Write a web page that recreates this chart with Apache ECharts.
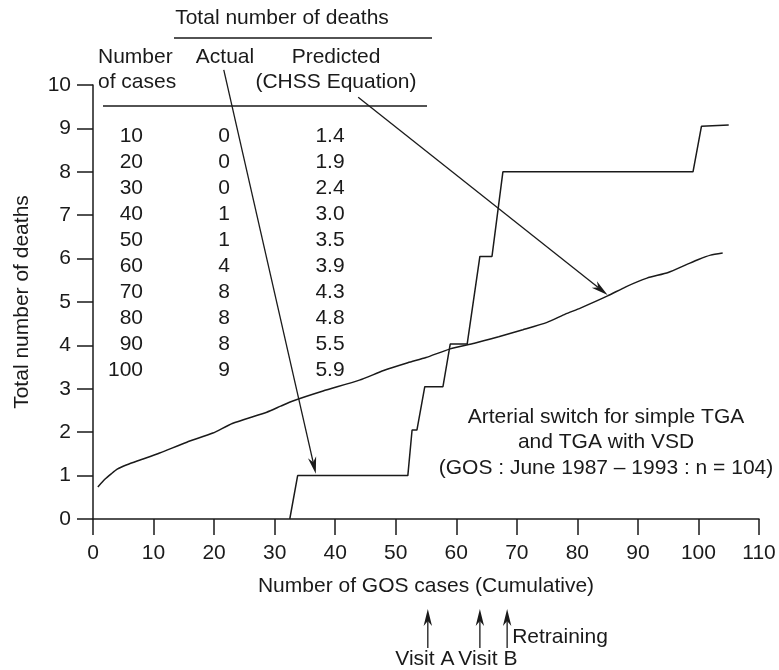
<!DOCTYPE html>
<html>
<head>
<meta charset="utf-8">
<script src="https://cdn.jsdelivr.net/npm/echarts@6/dist/echarts.min.js"></script>
<style>
  html, body { margin: 0; padding: 0; background: #fff; }
  #chart { width: 779px; height: 670px; }
</style>
</head>
<body>
<div id="chart"></div>
<script>
// predicted deaths (CHSS equation), cumulative case number vs deaths
const predicted = [
  [0.8, 0.74], [2, 0.92], [3, 1.04], [4, 1.15], [5.6, 1.25], [8, 1.37], [11, 1.52],
  [15.5, 1.77], [19.8, 1.98], [23, 2.2], [28.7, 2.46], [31, 2.6], [33, 2.72],
  [38, 2.95], [44, 3.2], [48, 3.42], [52, 3.6], [55, 3.72], [59, 3.92], [63, 4.05],
  [67, 4.2], [71, 4.36], [75, 4.53], [78, 4.72], [80.5, 4.86], [85, 5.14], [88, 5.35],
  [91.5, 5.55], [95, 5.68], [98, 5.86], [100, 5.98], [102, 6.08], [104, 6.13]
]
// actual deaths, stepped
const actual = [
  [32.5, 0], [33.8, 1], [52, 1], [52.7, 2.05], [53.5, 2.05], [54.8, 3.05], [57.8, 3.05],
  [59, 4.03], [61.8, 4.03], [63.9, 6.05], [65.9, 6.05], [67.7, 8], [99.1, 8],
  [100.5, 9.05], [105, 9.08]
]
const xTicks = { min: 0, max: 110, interval: 10 }
const yTicks = { min: 0, max: 10, interval: 1 }

// table in the upper left
const tableCases = [10, 20, 30, 40, 50, 60, 70, 80, 90, 100]
const tableActual = [0, 0, 0, 1, 1, 4, 8, 8, 8, 9]
const tablePredicted = ['1.4', '1.9', '2.4', '3.0', '3.5', '3.9', '4.3', '4.8', '5.5', '5.9']

// pointer arrows from the table headers to the lines
const pointerArrows = [
  [[21.6, 10.35], [36.8, 1.04]],
  [[43.8, 9.72], [85, 5.16]]
]
// event markers under the x axis
const eventX = [55.3, 63.9, 68.4]
const eventNames = ['Visit A', 'Visit B', 'Retraining']

const FONT = 'Liberation Sans'
const INK = '#1a1a1a'
const FS = 21

const chart = echarts.init(document.getElementById('chart'))

function txt(text, x, y, align) {
  return {
    type: 'text', x: x, y: y, silent: true,
    style: { text: text, font: FS + 'px "' + FONT + '"', fill: INK, align: align || 'center', verticalAlign: 'middle' }
  }
}
function hline(x1, x2, y) {
  return { type: 'line', silent: true, shape: { x1: x1, y1: y, x2: x2, y2: y }, style: { stroke: INK, lineWidth: 1.5 } }
}
// straight line with a narrow notched head at p2 (pixels)
function arrow(p1, p2) {
  const dx = p2[0] - p1[0], dy = p2[1] - p1[1]
  const len = Math.sqrt(dx * dx + dy * dy)
  const ux = dx / len, uy = dy / len
  const nx = -uy, ny = ux
  const L = 17, W = 4.2, N = 12
  const back = [p2[0] - ux * L, p2[1] - uy * L]
  const notch = [p2[0] - ux * N, p2[1] - uy * N]
  return [
    { type: 'line', silent: true, z: 10,
      shape: { x1: p1[0], y1: p1[1], x2: notch[0], y2: notch[1] },
      style: { stroke: INK, lineWidth: 1.3 } },
    { type: 'polygon', silent: true, z: 10,
      shape: { points: [p2, [back[0] + nx * W, back[1] + ny * W], notch, [back[0] - nx * W, back[1] - ny * W]] },
      style: { fill: INK } }
  ]
}

const graphics = [
  txt('Total number of deaths', 282, 18),
  hline(174, 432, 38),
  txt('Number', 98, 57, 'left'),
  txt('of cases', 98, 82, 'left'),
  txt('Actual', 225, 57),
  txt('Predicted', 336, 57),
  txt('(CHSS Equation)', 336, 82),
  hline(103, 427, 106),
  txt('Arterial switch for simple TGA', 606, 417),
  txt('and TGA with VSD', 606, 442),
  txt('(GOS : June 1987 \u2013 1993 : n = 104)', 606, 468)
]
tableCases.forEach(function (c, i) {
  const y = 136 + i * 26
  graphics.push(txt(String(c), 143, y, 'right'))
  graphics.push(txt(String(tableActual[i]), 224, y))
  graphics.push(txt(tablePredicted[i], 330, y))
})

chart.setOption({
  animation: false,
  backgroundColor: '#fff',
  textStyle: { fontFamily: FONT, color: INK },
  grid: { left: 93, right: 20, top: 85, bottom: 151 },
  xAxis: {
    type: 'value',
    min: xTicks.min, max: xTicks.max, interval: xTicks.interval,
    name: 'Number of GOS cases (Cumulative)',
    nameLocation: 'middle', nameGap: 57,
    nameTextStyle: { fontSize: FS, color: INK, fontFamily: FONT },
    axisLine: { lineStyle: { color: INK, width: 1.5 } },
    axisTick: { length: 16, lineStyle: { color: INK, width: 1.5 } },
    axisLabel: { fontSize: FS, color: INK, margin: 24, fontFamily: FONT },
    splitLine: { show: false }
  },
  yAxis: {
    type: 'value',
    min: yTicks.min, max: yTicks.max, interval: yTicks.interval,
    name: 'Total number of deaths',
    nameLocation: 'middle', nameGap: 60, nameRotate: 90,
    nameTextStyle: { fontSize: FS, color: INK, fontFamily: FONT },
    axisLine: { show: true, lineStyle: { color: INK, width: 1.5 } },
    axisTick: { show: true, length: 16, lineStyle: { color: INK, width: 1.5 } },
    axisLabel: { fontSize: FS, color: INK, margin: 22, fontFamily: FONT },
    splitLine: { show: false }
  },
  series: [
    {
      name: 'Predicted', type: 'line', data: predicted, showSymbol: false, symbol: 'none',
      smooth: 0.2, lineStyle: { color: INK, width: 1.5 }, z: 3
    },
    {
      name: 'Actual', type: 'line', data: actual, showSymbol: false, symbol: 'none',
      lineStyle: { color: INK, width: 1.5 }, z: 3
    }
  ],
  graphic: graphics
})

// arrows placed through the axes' own scale
const extra = []
pointerArrows.forEach(function (a) {
  const p1 = chart.convertToPixel({ gridIndex: 0 }, a[0])
  const p2 = chart.convertToPixel({ gridIndex: 0 }, a[1])
  extra.push.apply(extra, arrow(p1, p2))
})
const evPix = eventX.map(function (x) { return chart.convertToPixel({ xAxisIndex: 0 }, x) })
evPix.forEach(function (px) {
  extra.push.apply(extra, arrow([px, 648], [px, 609]))
})
extra.push(txt(eventNames[0], evPix[0] - 3, 659))
extra.push(txt(eventNames[1], evPix[1] + 8, 659))
extra.push(txt(eventNames[2], evPix[2] + 5, 637, 'left'))

chart.setOption({ graphic: graphics.concat(extra) })
</script>
</body>
</html>
